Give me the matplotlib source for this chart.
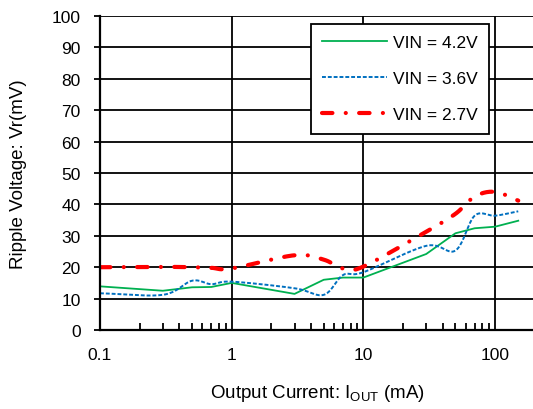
import numpy as np
import matplotlib.pyplot as plt

plt.rcParams['font.family'] = ['Liberation Sans', 'DejaVu Sans']

# output current (mA)
i_out = [0.1, 0.3, 0.5, 0.7, 1, 3, 5, 7, 10, 30, 50, 70, 100, 150]
# ripple voltage (mV)
vr_42 = [13.9, 12.5, 13.6, 13.7, 15.0, 11.5, 16.0, 16.7, 16.7, 24.2, 30.8, 32.4, 32.9, 34.8]
vr_36 = [11.7, 11.2, 15.7, 14.6, 15.4, 13.3, 11.2, 17.5, 18.4, 26.8, 25.3, 36.4, 36.4, 37.8]
vr_27 = [20.0, 20.1, 20.0, 19.8, 19.6, 23.8, 22.4, 19.6, 20.2, 31.3, 37.0, 42.5, 44.0, 41.2]


def smooth(x, y, n=20):
    # catmull-rom through the points in log-x space (like excel "smoothed line")
    lx = np.log10(np.array(x, dtype=float))
    yy = np.array(y, dtype=float)
    px = np.concatenate([[2*lx[0]-lx[1]], lx, [2*lx[-1]-lx[-2]]])
    py = np.concatenate([[2*yy[0]-yy[1]], yy, [2*yy[-1]-yy[-2]]])
    ox, oy = [], []
    for k in range(1, len(px)-2):
        t = np.linspace(0, 1, n, endpoint=False)
        for arr, out in ((px, ox), (py, oy)):
            p0, p1, p2, p3 = arr[k-1], arr[k], arr[k+1], arr[k+2]
            out.extend(0.5*((2*p1) + (-p0+p2)*t + (2*p0-5*p1+4*p2-p3)*t**2
                            + (-p0+3*p1-3*p2+p3)*t**3))
    ox.append(lx[-1])
    oy.append(yy[-1])
    return 10**np.array(ox), np.array(oy)


fig = plt.figure(figsize=(5.33, 4.10), dpi=100)
ax = fig.add_axes([100/533, 79/410, 434.7/533, 314/410])

ax.plot(i_out, vr_42, color='#00b050', lw=1.3, label='VIN = 4.2V')
sx, sy = smooth(i_out, vr_36)
ax.plot(sx, sy, color='#0070c0', lw=1.4, ls=(0, (2, 1)), label='VIN = 3.6V')
sx, sy = smooth(i_out, vr_27)
ax.plot(sx, sy, color='#ff0000', lw=3, ls=(0, (2.5, 3.2, 0.01, 3.2)),
        dash_capstyle='round', label='VIN = 2.7V')

ax.set_xscale('log')
ax.set_xlim(0.1, 200)
ax.set_ylim(0, 100)
ax.set_yticks(np.arange(0, 101, 10))
ax.set_xticks([0.1, 1, 10, 100])
ax.set_xticklabels(['0.1', '1', '10', '100'])
ax.grid(True, which='major', color='black', lw=1.3)
ax.tick_params(axis='both', which='major', labelsize=12.5, color='black', width=1.3)
ax.tick_params(axis='x', which='major', length=0, pad=12)
ax.tick_params(axis='y', which='major', length=4, pad=10)
ax.tick_params(axis='x', which='minor', direction='in', length=5, width=1.3)
for s in ['top', 'right']:
    ax.spines[s].set_visible(False)
for s in ['left', 'bottom']:
    ax.spines[s].set_linewidth(1.6)

ax.set_ylabel('Ripple Voltage: Vr(mV)', fontsize=13.5, labelpad=18)
ax.set_xlabel('Output Current: I$_{\\mathregular{OUT}}$ (mA)', fontsize=13.5, labelpad=15)

leg = ax.legend(loc='upper left', bbox_to_anchor=(211/434.7, 1 - 8/314),
                fontsize=12.5, frameon=True, fancybox=False, edgecolor='black',
                handlelength=3.7, handletextpad=0.35, labelspacing=1.2,
                borderpad=0.65, borderaxespad=0)
leg.get_frame().set_linewidth(1.3)
leg.get_frame().set_alpha(1)

fig.savefig('out.png', dpi=100)
